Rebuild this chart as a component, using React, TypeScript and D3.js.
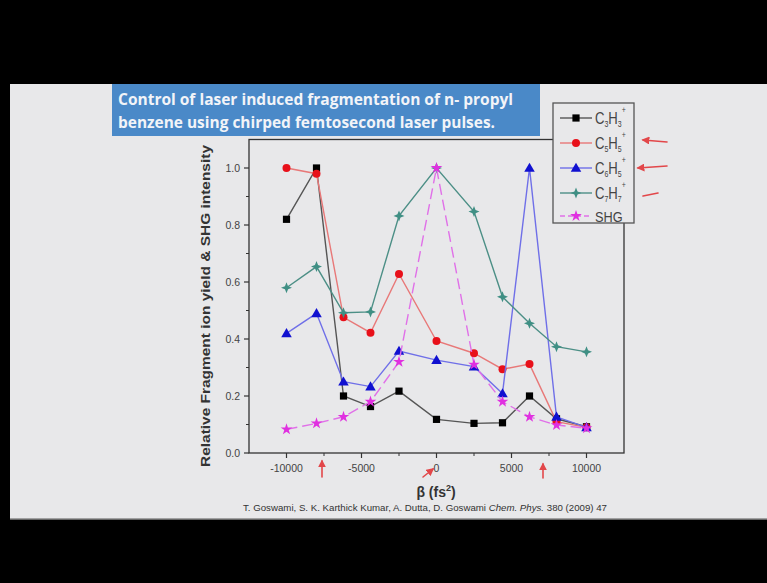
import React from "react";
import * as d3 from "d3";

// Chirp values (fs^2) at which ion yields were recorded
const beta = [-10000, -8000, -6200, -4400, -2500, 0, 2500, 4400, 6200, 8000, 10000];

// Relative ion yields and SHG intensity
const c3h3 = [0.82, 1.0, 0.2, 0.163, 0.217, 0.118, 0.104, 0.106, 0.2, 0.12, 0.092];
const c5h5 = [1.0, 0.98, 0.476, 0.422, 0.628, 0.393, 0.35, 0.294, 0.312, 0.11, 0.09];
const c6h5 = [0.42, 0.49, 0.25, 0.233, 0.358, 0.326, 0.303, 0.209, 1.0, 0.127, 0.09];
const c7h7 = [0.58, 0.654, 0.492, 0.495, 0.832, 1.0, 0.847, 0.548, 0.455, 0.373, 0.355];
const shg = [0.083, 0.104, 0.127, 0.18, 0.32, 1.0, 0.31, 0.18, 0.127, 0.098, 0.087];

const xTicks = [-10000, -5000, 0, 5000, 10000];
const yTicks = [0.0, 0.2, 0.4, 0.6, 0.8, 1.0];

type Series = {
  name: string;
  base: string;
  sub1: string;
  sub2: string;
  sup: string;
  values: number[];
  line: string;
  fill: string;
  marker: "square" | "circle" | "triangle" | "star4" | "star";
  dash?: string;
};

const series: Series[] = [
  { name: "C3H3+", base: "C", sub1: "3", sub2: "3", sup: "+", values: c3h3, line: "#555", fill: "#000", marker: "square" },
  { name: "C5H5+", base: "C", sub1: "5", sub2: "5", sup: "+", values: c5h5, line: "#e87878", fill: "#e8101a", marker: "circle" },
  { name: "C6H5+", base: "C", sub1: "6", sub2: "5", sup: "+", values: c6h5, line: "#6f6fe8", fill: "#1010d0", marker: "triangle" },
  { name: "C7H7+", base: "C", sub1: "7", sub2: "7", sup: "+", values: c7h7, line: "#4c8f86", fill: "#3f8f84", marker: "star4" },
  { name: "SHG", base: "SHG", sub1: "", sub2: "", sup: "", values: shg, line: "#e070e8", fill: "#e030e0", marker: "star", dash: "11,5" },
];

const W = 767;
const H = 583;

const x = d3.scaleLinear().domain([-12500, 12500]).range([249, 624]);
const y = d3.scaleLinear().domain([0, 1.1]).range([453, 139.5]);

function star4(r: number, inner: number) {
  const pts: [number, number][] = [];
  for (let i = 0; i < 8; i++) {
    const a = (Math.PI / 4) * i - Math.PI / 2;
    const rr = i % 2 === 0 ? r : inner;
    pts.push([Math.cos(a) * rr, Math.sin(a) * rr]);
  }
  return "M" + pts.map((p) => p.join(",")).join("L") + "Z";
}

function Marker({ kind, cx, cy, fill }: { kind: Series["marker"]; cx: number; cy: number; fill: string }) {
  if (kind === "square") return <rect x={cx - 3.6} y={cy - 3.6} width={7.2} height={7.2} fill={fill} />;
  if (kind === "circle") return <circle cx={cx} cy={cy} r={4} fill={fill} />;
  if (kind === "triangle")
    return <path d={d3.symbol(d3.symbolTriangle, 48)() as string} transform={`translate(${cx},${cy + 0.8})`} fill={fill} />;
  if (kind === "star4")
    return <path d={star4(5.5, 2.2)} transform={`translate(${cx},${cy})`} fill={fill} />;
  return <path d={d3.symbol(d3.symbolStar, 42)() as string} transform={`translate(${cx},${cy})`} fill={fill} />;
}

const arrowColor = "#e2474a";

export default function App() {
  const line = d3
    .line<number>()
    .x((_, i) => x(beta[i]))
    .y((v) => y(v));

  const minorX = d3.range(-12500, 12501, 2500).filter((v) => v % 5000 !== 0 && v > -12500 && v < 12500);
  const minorY = d3.range(0.1, 1.1, 0.2);

  const legendX = 553;
  const legendY = 103;
  const legendRows = [118, 143, 168, 193, 216];

  return (
    <div style={{ position: "fixed", left: 0, top: 0, width: W, height: H, background: "#000" }}>
      <svg width={W} height={H} style={{ display: "block" }} fontFamily="'Liberation Sans', Arial, sans-serif">
        <defs>
          <marker id="ah" viewBox="0 0 10 10" refX="8" refY="5" markerWidth="5" markerHeight="5" orient="auto-start-reverse">
            <path d="M0,0L10,5L0,10Z" fill={arrowColor} />
          </marker>
        </defs>
        <rect width={W} height={H} fill="#000" />
        {/* slide */}
        <rect x={10} y={84} width={757} height={435} fill="#e8e8ea" />
        <line x1={10} x2={767} y1={519} y2={519} stroke="#8a8a8a" strokeWidth={1.5} />

        {/* plot frame */}
        <rect x={249} y={139.5} width={375} height={313.5} fill="none" stroke="#333" strokeWidth={1.3} />

        {/* x axis ticks */}
        {xTicks.map((t) => (
          <g key={`xt${t}`}>
            <line x1={x(t)} x2={x(t)} y1={453} y2={458} stroke="#333" strokeWidth={1.2} />
            <text x={x(t)} y={472} textAnchor="middle" fontSize={10.5} fill="#444">
              {t}
            </text>
          </g>
        ))}
        {minorX.map((t) => (
          <line key={`xm${t}`} x1={x(t)} x2={x(t)} y1={453} y2={456} stroke="#333" strokeWidth={1} />
        ))}

        {/* y axis ticks */}
        {yTicks.map((t) => (
          <g key={`yt${t}`}>
            <line x1={244} x2={249} y1={y(t)} y2={y(t)} stroke="#333" strokeWidth={1.2} />
            <text x={240} y={y(t) + 3.5} textAnchor="end" fontSize={10.5} fill="#444">
              {t.toFixed(1)}
            </text>
          </g>
        ))}
        {minorY.map((t) => (
          <line key={`ym${t}`} x1={246} x2={249} y1={y(t)} y2={y(t)} stroke="#333" strokeWidth={1} />
        ))}

        {/* axis titles */}
        <text
          transform="translate(210,306) rotate(-90)"
          textAnchor="middle"
          fontSize={13}
          fontWeight="bold"
          fill="#333"
          textLength={322}
          lengthAdjust="spacingAndGlyphs"
        >
          Relative Fragment ion yield &amp; SHG intensity
        </text>
        <text x={436} y={497} textAnchor="middle" fontSize={14} fontWeight="bold" fill="#333">
          β (fs<tspan fontSize={9} dy={-6}>2</tspan>
          <tspan dy={6}>)</tspan>
        </text>

        {/* data series */}
        {series.map((s) => (
          <g key={s.name}>
            <path d={line(s.values) as string} fill="none" stroke={s.line} strokeWidth={1.4} strokeDasharray={s.dash} />
            {s.values.map((v, i) => (
              <Marker key={i} kind={s.marker} cx={x(beta[i])} cy={y(v)} fill={s.fill} />
            ))}
          </g>
        ))}

        {/* title box */}
        <rect x={112} y={84} width={428} height={52} fill="#4a89c8" />
        <text x={118} y={105} fontFamily="'Open Sans', sans-serif" fontWeight="bold" fontSize={15.5} fill="#f2f4f8" textLength={395} lengthAdjust="spacingAndGlyphs">
          Control of laser induced fragmentation of n- propyl
        </text>
        <text x={118} y={128} fontFamily="'Open Sans', sans-serif" fontWeight="bold" fontSize={15.5} fill="#f2f4f8" textLength={377} lengthAdjust="spacingAndGlyphs">
          benzene using chirped femtosecond laser pulses.
        </text>

        {/* legend */}
        <rect x={legendX} y={legendY} width={81} height={120} fill="#e8e8ea" stroke="#555" strokeWidth={1.3} />
        {series.map((s, i) => {
          const ly = legendRows[i];
          return (
            <g key={`lg${s.name}`}>
              <line x1={560} x2={592} y1={ly} y2={ly} stroke={s.line} strokeWidth={1.4} strokeDasharray={s.dash ? "5,3" : undefined} />
              <Marker kind={s.marker} cx={576} cy={ly} fill={s.fill} />
              {s.sub1 ? (
                <text transform={`translate(595,${ly + 5.5}) scale(0.82,1)`} fontSize={16} fill="#444">
                  C<tspan fontSize={8.5} dy={3}>{s.sub1}</tspan>
                  <tspan dy={-3}>H</tspan>
                  <tspan fontSize={8.5} dy={3}>{s.sub2}</tspan>
                  <tspan fontSize={8.5} dy={-14}>{s.sup}</tspan>
                </text>
              ) : (
                <text transform={`translate(595,${ly + 5.5}) scale(0.85,1)`} fontSize={15} fill="#444">
                  {s.base}
                </text>
              )}
            </g>
          );
        })}

        {/* hand-drawn red pointers */}
        <g stroke={arrowColor} strokeWidth={1.6} fill="none" strokeLinecap="round">
          <line x1={667} y1={142} x2={643} y2={140} markerEnd="url(#ah)" />
          <line x1={667} y1={166} x2={638} y2={168} markerEnd="url(#ah)" />
          <line x1={658} y1={193} x2={643} y2={196} />
          <line x1={322} y1={477} x2={322} y2={461} markerEnd="url(#ah)" />
          <line x1={423} y1={477} x2={433} y2={469} markerEnd="url(#ah)" />
          <line x1={543} y1={478} x2={543} y2={464} markerEnd="url(#ah)" />
        </g>

        {/* citation */}
        <text x={243} y={511} fontSize={9.5} fill="#333" textLength={364} lengthAdjust="spacingAndGlyphs">
          T. Goswami, S. K. Karthick Kumar, A. Dutta, D. Goswami <tspan fontStyle="italic">Chem. Phys.</tspan> 380 (2009) 47
        </text>
      </svg>
    </div>
  );
}
